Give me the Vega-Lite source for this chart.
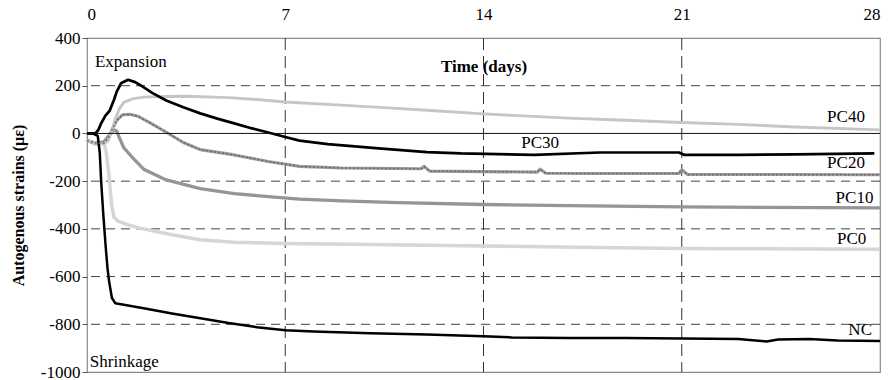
{
  "$schema": "https://vega.github.io/schema/vega-lite/v6.json",
  "width": 793,
  "height": 334,
  "autosize": {"type": "none"},
  "padding": {"left": 87, "top": 38, "right": 9, "bottom": 8},
  "background": "white",
  "config": {
    "view": {"stroke": "#8a8a8a", "strokeWidth": 1.2},
    "font": "Liberation Serif, Times New Roman, serif",
    "axis": {"labelFont": "Liberation Serif, Times New Roman, serif", "titleFont": "Liberation Serif, Times New Roman, serif"},
    "text": {"font": "Liberation Serif, Times New Roman, serif"}
  },
  "datasets": {
    "series": [
      {"series": "PC0", "day": 0, "strain": -30}, {"series": "PC0", "day": 0.3, "strain": -45}, {"series": "PC0", "day": 0.6, "strain": -40},
      {"series": "PC0", "day": 0.68, "strain": -80}, {"series": "PC0", "day": 0.78, "strain": -180}, {"series": "PC0", "day": 0.87, "strain": -300},
      {"series": "PC0", "day": 0.95, "strain": -350}, {"series": "PC0", "day": 1.1, "strain": -368}, {"series": "PC0", "day": 1.5, "strain": -385},
      {"series": "PC0", "day": 1.9, "strain": -398}, {"series": "PC0", "day": 3, "strain": -425}, {"series": "PC0", "day": 4, "strain": -446},
      {"series": "PC0", "day": 5.2, "strain": -456}, {"series": "PC0", "day": 7, "strain": -461}, {"series": "PC0", "day": 10, "strain": -466},
      {"series": "PC0", "day": 14, "strain": -472}, {"series": "PC0", "day": 18, "strain": -478}, {"series": "PC0", "day": 21, "strain": -482},
      {"series": "PC0", "day": 28, "strain": -485},

      {"series": "PC10", "day": 0, "strain": -30}, {"series": "PC10", "day": 0.3, "strain": -40}, {"series": "PC10", "day": 0.6, "strain": -35},
      {"series": "PC10", "day": 0.8, "strain": -5}, {"series": "PC10", "day": 0.95, "strain": 15}, {"series": "PC10", "day": 1.05, "strain": 10},
      {"series": "PC10", "day": 1.15, "strain": -20}, {"series": "PC10", "day": 1.3, "strain": -60}, {"series": "PC10", "day": 1.6, "strain": -100},
      {"series": "PC10", "day": 2.0, "strain": -150}, {"series": "PC10", "day": 2.8, "strain": -195}, {"series": "PC10", "day": 4, "strain": -231},
      {"series": "PC10", "day": 5.2, "strain": -252}, {"series": "PC10", "day": 6.4, "strain": -265}, {"series": "PC10", "day": 7.5, "strain": -275},
      {"series": "PC10", "day": 9, "strain": -283}, {"series": "PC10", "day": 11, "strain": -290}, {"series": "PC10", "day": 14, "strain": -298},
      {"series": "PC10", "day": 17, "strain": -303}, {"series": "PC10", "day": 21, "strain": -308}, {"series": "PC10", "day": 24, "strain": -310},
      {"series": "PC10", "day": 28, "strain": -312},

      {"series": "PC20", "day": 0, "strain": -30}, {"series": "PC20", "day": 0.3, "strain": -40}, {"series": "PC20", "day": 0.6, "strain": -40},
      {"series": "PC20", "day": 0.75, "strain": -20}, {"series": "PC20", "day": 0.9, "strain": 20}, {"series": "PC20", "day": 1.05, "strain": 55},
      {"series": "PC20", "day": 1.25, "strain": 78}, {"series": "PC20", "day": 1.5, "strain": 80}, {"series": "PC20", "day": 1.8, "strain": 72},
      {"series": "PC20", "day": 2.2, "strain": 46}, {"series": "PC20", "day": 2.8, "strain": 5}, {"series": "PC20", "day": 3.4, "strain": -38},
      {"series": "PC20", "day": 4.0, "strain": -68}, {"series": "PC20", "day": 5.2, "strain": -90}, {"series": "PC20", "day": 6.4, "strain": -118},
      {"series": "PC20", "day": 7.5, "strain": -138}, {"series": "PC20", "day": 9, "strain": -145}, {"series": "PC20", "day": 11.8, "strain": -148},
      {"series": "PC20", "day": 11.9, "strain": -138}, {"series": "PC20", "day": 12.1, "strain": -158}, {"series": "PC20", "day": 14, "strain": -160},
      {"series": "PC20", "day": 15.9, "strain": -162}, {"series": "PC20", "day": 16.0, "strain": -150}, {"series": "PC20", "day": 16.2, "strain": -167},
      {"series": "PC20", "day": 18, "strain": -168}, {"series": "PC20", "day": 20.9, "strain": -168}, {"series": "PC20", "day": 21.0, "strain": -152},
      {"series": "PC20", "day": 21.2, "strain": -172}, {"series": "PC20", "day": 24, "strain": -172}, {"series": "PC20", "day": 28, "strain": -173},

      {"series": "PC40", "day": 0, "strain": -30}, {"series": "PC40", "day": 0.3, "strain": -40}, {"series": "PC40", "day": 0.6, "strain": -45},
      {"series": "PC40", "day": 0.75, "strain": -30}, {"series": "PC40", "day": 0.9, "strain": 20}, {"series": "PC40", "day": 1.0, "strain": 60},
      {"series": "PC40", "day": 1.15, "strain": 105}, {"series": "PC40", "day": 1.3, "strain": 130}, {"series": "PC40", "day": 1.6, "strain": 145},
      {"series": "PC40", "day": 2.0, "strain": 152}, {"series": "PC40", "day": 2.6, "strain": 155}, {"series": "PC40", "day": 3.5, "strain": 156},
      {"series": "PC40", "day": 5, "strain": 150}, {"series": "PC40", "day": 6, "strain": 142}, {"series": "PC40", "day": 7, "strain": 132},
      {"series": "PC40", "day": 8.5, "strain": 122}, {"series": "PC40", "day": 10.5, "strain": 108}, {"series": "PC40", "day": 12, "strain": 97},
      {"series": "PC40", "day": 14, "strain": 82}, {"series": "PC40", "day": 17, "strain": 64}, {"series": "PC40", "day": 19, "strain": 55},
      {"series": "PC40", "day": 21, "strain": 46}, {"series": "PC40", "day": 23, "strain": 38}, {"series": "PC40", "day": 25, "strain": 27},
      {"series": "PC40", "day": 28, "strain": 15},

      {"series": "PC30", "day": 0, "strain": 0}, {"series": "PC30", "day": 0.3, "strain": 0}, {"series": "PC30", "day": 0.4, "strain": 15},
      {"series": "PC30", "day": 0.5, "strain": 42}, {"series": "PC30", "day": 0.65, "strain": 75}, {"series": "PC30", "day": 0.8, "strain": 95},
      {"series": "PC30", "day": 0.95, "strain": 140}, {"series": "PC30", "day": 1.05, "strain": 175}, {"series": "PC30", "day": 1.2, "strain": 210},
      {"series": "PC30", "day": 1.45, "strain": 225}, {"series": "PC30", "day": 1.7, "strain": 215}, {"series": "PC30", "day": 1.9, "strain": 201},
      {"series": "PC30", "day": 2.3, "strain": 170}, {"series": "PC30", "day": 2.8, "strain": 138}, {"series": "PC30", "day": 3.4, "strain": 110},
      {"series": "PC30", "day": 4.0, "strain": 84}, {"series": "PC30", "day": 4.6, "strain": 62}, {"series": "PC30", "day": 5.2, "strain": 42},
      {"series": "PC30", "day": 5.8, "strain": 22}, {"series": "PC30", "day": 6.4, "strain": 4}, {"series": "PC30", "day": 7, "strain": -15},
      {"series": "PC30", "day": 7.5, "strain": -30}, {"series": "PC30", "day": 8.5, "strain": -45}, {"series": "PC30", "day": 10.3, "strain": -63},
      {"series": "PC30", "day": 12, "strain": -78}, {"series": "PC30", "day": 13.2, "strain": -84}, {"series": "PC30", "day": 15.8, "strain": -90},
      {"series": "PC30", "day": 18.1, "strain": -80}, {"series": "PC30", "day": 20.9, "strain": -80}, {"series": "PC30", "day": 21.1, "strain": -90},
      {"series": "PC30", "day": 23, "strain": -90}, {"series": "PC30", "day": 25, "strain": -88}, {"series": "PC30", "day": 27.8, "strain": -84},

      {"series": "NC", "day": 0, "strain": 0}, {"series": "NC", "day": 0.2, "strain": 0}, {"series": "NC", "day": 0.38, "strain": -10},
      {"series": "NC", "day": 0.45, "strain": -80}, {"series": "NC", "day": 0.5, "strain": -200}, {"series": "NC", "day": 0.57, "strain": -330},
      {"series": "NC", "day": 0.65, "strain": -460}, {"series": "NC", "day": 0.72, "strain": -560}, {"series": "NC", "day": 0.78, "strain": -620},
      {"series": "NC", "day": 0.88, "strain": -690}, {"series": "NC", "day": 1.0, "strain": -712}, {"series": "NC", "day": 1.5, "strain": -722},
      {"series": "NC", "day": 2, "strain": -733}, {"series": "NC", "day": 3, "strain": -755}, {"series": "NC", "day": 4, "strain": -775},
      {"series": "NC", "day": 5, "strain": -795}, {"series": "NC", "day": 6, "strain": -812}, {"series": "NC", "day": 7, "strain": -825},
      {"series": "NC", "day": 8, "strain": -830}, {"series": "NC", "day": 10, "strain": -838}, {"series": "NC", "day": 12, "strain": -843},
      {"series": "NC", "day": 14, "strain": -850}, {"series": "NC", "day": 15, "strain": -855}, {"series": "NC", "day": 17, "strain": -857},
      {"series": "NC", "day": 19, "strain": -858}, {"series": "NC", "day": 21, "strain": -860}, {"series": "NC", "day": 23, "strain": -862},
      {"series": "NC", "day": 24, "strain": -872}, {"series": "NC", "day": 24.4, "strain": -864}, {"series": "NC", "day": 25.5, "strain": -862},
      {"series": "NC", "day": 26.5, "strain": -868}, {"series": "NC", "day": 28, "strain": -870}
    ],
    "labels": [
      {"day": 26.8, "strain": 67, "text": "PC40"},
      {"day": 16.0, "strain": -42, "text": "PC30"},
      {"day": 26.8, "strain": -126, "text": "PC20"},
      {"day": 27.1, "strain": -272, "text": "PC10"},
      {"day": 27.0, "strain": -444, "text": "PC0"},
      {"day": 27.3, "strain": -826, "text": "NC"}
    ],
    "notes": [
      {"day": 0.28, "strain": 298, "text": "Expansion"},
      {"day": 0.1, "strain": -960, "text": "Shrinkage"}
    ],
    "hgrid": [{"strain": 200}, {"strain": -200}, {"strain": -400}, {"strain": -600}, {"strain": -800}],
    "vgrid": [{"day": 7}, {"day": 14}, {"day": 21}]
  },
  "layer": [
    {
      "data": {"name": "hgrid"},
      "mark": {"type": "rule", "color": "#444444", "strokeWidth": 1, "strokeDash": [9, 6]},
      "encoding": {"y": {"field": "strain", "type": "quantitative"}}
    },
    {
      "data": {"name": "vgrid"},
      "mark": {"type": "rule", "color": "#333333", "strokeWidth": 1, "strokeDash": [12, 6]},
      "encoding": {"x": {"field": "day", "type": "quantitative"}}
    },
    {
      "data": {"name": "series"},
      "mark": {"type": "line", "strokeJoin": "round", "strokeCap": "butt"},
      "encoding": {
        "x": {
          "field": "day", "type": "quantitative",
          "scale": {"domain": [0, 28], "nice": false, "zero": false},
          "axis": {
            "orient": "top", "values": [0, 7, 14, 21, 28], "title": "Time (days)",
            "titleFontWeight": "bold", "titleFontSize": 17, "titleY": 28, "titleBaseline": "middle", "titleColor": "black",
            "labelFontSize": 17, "labelColor": "black", "ticks": false, "domain": false, "labelPadding": 15,
            "grid": false
          }
        },
        "y": {
          "field": "strain", "type": "quantitative",
          "scale": {"domain": [-1000, 400], "nice": false},
          "axis": {
            "values": [-1000, -800, -600, -400, -200, 0, 200, 400], "labelExpr": "datum.value + ''", "title": "Autogenous strains (με)",
            "titleFontWeight": "bold", "titleFontSize": 16, "titleColor": "black",
            "titleX": -69, "titleY": 167, "titleAngle": -90, "titleAlign": "center", "titleBaseline": "middle",
            "labelFontSize": 17, "labelColor": "black", "tickSize": 5, "tickColor": "#555555", "labelPadding": 2,
            "domain": false, "grid": false
          }
        },
        "color": {
          "field": "series", "type": "nominal",
          "scale": {"domain": ["PC0", "PC10", "PC20", "PC40", "PC30", "NC"], "range": ["#d6d6d6", "#959595", "#9c9c9c", "#c6c6c6", "#000000", "#000000"]},
          "legend": null
        },
        "strokeWidth": {
          "field": "series", "type": "ordinal",
          "scale": {"domain": ["PC0", "PC10", "PC20", "PC40", "PC30", "NC"], "range": [3.5, 2.5, 4.5, 5, 3, 4]},
          "legend": null
        },
        "order": {"field": "day", "type": "quantitative"}
      }
    },
    {
      "data": {"name": "series"},
      "transform": [{"filter": "datum.series === 'PC20'"}],
      "mark": {"type": "line", "color": "#6a6a6a", "strokeWidth": 1.5, "strokeDash": [2, 2]},
      "encoding": {
        "x": {"field": "day", "type": "quantitative"},
        "y": {"field": "strain", "type": "quantitative"}
      }
    },
    {
      "data": {"values": [{"strain": 0}]},
      "mark": {"type": "rule", "color": "#111111", "strokeWidth": 1},
      "encoding": {"y": {"field": "strain", "type": "quantitative"}}
    },
    {
      "data": {"name": "labels"},
      "mark": {"type": "text", "font": "Liberation Serif, Times New Roman, serif", "fontSize": 17, "align": "center", "baseline": "middle", "color": "black"},
      "encoding": {
        "x": {"field": "day", "type": "quantitative"},
        "y": {"field": "strain", "type": "quantitative"},
        "text": {"field": "text"}
      }
    },
    {
      "data": {"name": "notes"},
      "mark": {"type": "text", "font": "Liberation Serif, Times New Roman, serif", "fontSize": 17, "align": "left", "baseline": "middle", "color": "black"},
      "encoding": {
        "x": {"field": "day", "type": "quantitative"},
        "y": {"field": "strain", "type": "quantitative"},
        "text": {"field": "text"}
      }
    }
  ]
}
